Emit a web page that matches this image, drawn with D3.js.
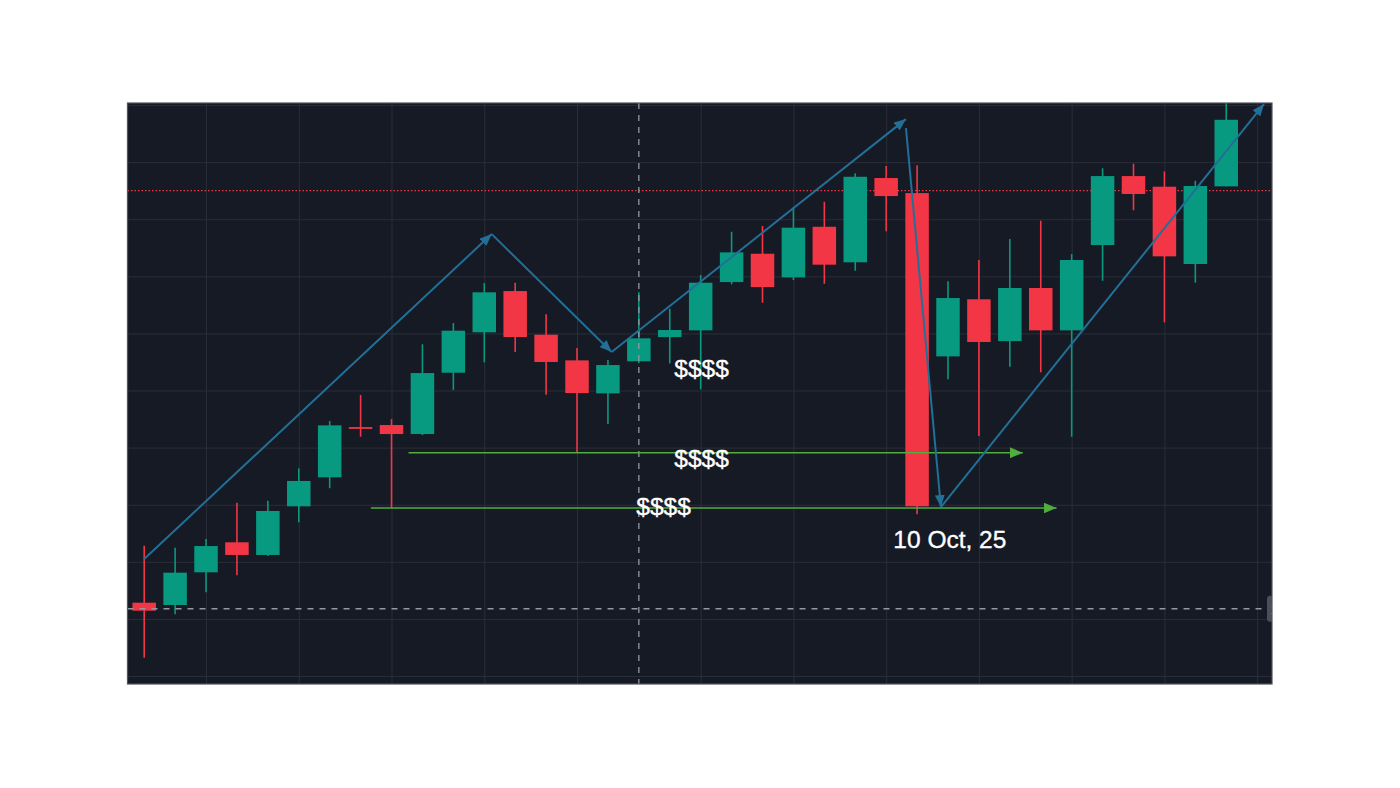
<!DOCTYPE html>
<html>
<head>
<meta charset="utf-8">
<script src="https://cdn.jsdelivr.net/npm/d3@7"></script>
<style>
  html, body { margin: 0; padding: 0; background: #ffffff; }
  svg { display: block; }
</style>
</head>
<body>
<svg id="chart" width="1400" height="788"></svg>
<script>
// ---------------- DATA ----------------
const dates = ["2025-09-15","2025-09-16","2025-09-17","2025-09-18","2025-09-19","2025-09-20",
  "2025-09-21","2025-09-22","2025-09-23","2025-09-24","2025-09-25","2025-09-26","2025-09-27",
  "2025-09-28","2025-09-29","2025-09-30","2025-10-01","2025-10-02","2025-10-03","2025-10-04",
  "2025-10-05","2025-10-06","2025-10-07","2025-10-08","2025-10-09","2025-10-10","2025-10-11",
  "2025-10-12","2025-10-13","2025-10-14","2025-10-15","2025-10-16","2025-10-17","2025-10-18",
  "2025-10-19","2025-10-20"];
const openP  = [106.42,106.22,109.08,111.71,110.60,114.86,117.40,121.80,121.98,121.19,126.56,130.10,
  133.71,129.89,127.64,124.75,127.56,129.68,130.27,134.50,136.98,134.91,139.34,136.23,143.61,142.29,
  127.99,132.99,129.33,133.98,130.27,137.74,143.78,142.85,136.08,142.88];
const highP  = [111.41,111.23,112.00,115.18,115.35,118.19,122.33,124.61,122.50,129.05,130.91,134.41,
  134.44,131.67,128.72,127.67,133.60,132.16,135.11,138.91,139.40,141.04,141.53,144.02,144.66,144.72,
  134.56,136.43,138.27,139.87,136.95,144.46,144.86,144.19,143.37,151.00];
const lowP   = [101.60,105.40,107.33,108.82,110.51,113.46,116.44,120.95,114.71,121.10,125.04,127.47,
  128.37,124.63,119.61,122.07,127.41,127.38,125.11,134.30,132.69,134.68,134.35,135.49,138.94,114.16,
  125.98,121.02,127.08,126.59,120.95,134.61,140.78,130.97,134.44,142.88];
const closeP = [105.72,109.05,111.38,110.60,114.45,117.08,121.95,121.67,121.19,126.53,130.24,133.60,
  129.68,127.50,124.78,127.23,129.57,130.30,134.44,137.10,134.06,139.26,136.02,143.72,142.03,114.86,
  133.10,129.25,133.98,130.27,136.43,143.78,142.21,136.75,142.91,148.71];

// vertical grid lines (day index from first candle)
const vGridIdx = [2, 5, 8, 11, 14, 18, 21, 24, 27, 30, 33, 36];
// horizontal grid price levels
const hGridPrices = [100, 105, 110, 115, 120, 125, 130, 135, 140, 145, 150];

// reference lines
const lastPriceLine = 142.50;          // red dotted
const crosshairIdx = 16, crosshairPrice = 105.89;

// blue trend arrows: [startIdx, startPrice, endIdx, endPrice]
const blueArrows = [
  [0.00, 110.25, 11.24, 138.70],
  [11.24, 138.70, 15.12, 128.37],
  [15.12, 128.37, 24.64, 148.77],
  [24.64, 147.99, 25.77, 114.80],
  [25.77, 114.80, 36.22, 150.09]
];
// green support arrows: [startIdx, endIdx, price]
const greenArrows = [
  [8.55, 28.42, 119.55],
  [7.33, 29.51, 114.71]
];
// text labels: [text, centerIdx, baselinePrice]
const textLabels = [
  ["$$$$", 18.03, 126.18],
  ["$$$$", 18.03, 118.30],
  ["$$$$", 16.80, 114.10],
  ["10 Oct, 25", 26.06, 111.21]
];

// ---------------- LAYOUT ----------------
const panel = { left: 127.5, top: 103, right: 1272, bottom: 684 };
const day = 864e5;
const t0 = Date.UTC(2025, 8, 15);
const svg = d3.select("#chart");

const x = d3.scaleUtc()
  .domain([new Date(t0 - 0.54 * day), new Date(t0 + 36.48 * day)])
  .range([panel.left, panel.right]);
const xi = i => x(new Date(t0 + i * day));
const y = d3.scaleLinear().domain([99.3, 150.18]).range([panel.bottom, panel.top]);

const candles = dates.map((d, i) => ({
  date: new Date(d + "T00:00:00Z"), o: openP[i], h: highP[i], l: lowP[i], c: closeP[i]
}));

const UP = "#089981", DOWN = "#f23645";
const bodyW = 23.5;

const defs = svg.append("defs");
defs.append("clipPath").attr("id", "clip")
  .append("rect").attr("x", panel.left).attr("y", panel.top)
  .attr("width", panel.right - panel.left).attr("height", panel.bottom - panel.top);

function marker(id, color, len, wid) {
  defs.append("marker").attr("id", id)
    .attr("markerUnits", "userSpaceOnUse")
    .attr("viewBox", `0 0 ${len} ${wid}`)
    .attr("refX", len).attr("refY", wid / 2)
    .attr("markerWidth", len).attr("markerHeight", wid)
    .attr("orient", "auto")
    .append("path").attr("d", `M0,0 L${len},${wid / 2} L0,${wid} Z`).attr("fill", color);
}
marker("blueHead", "#226f97", 12, 10);
marker("greenHead", "#4fae3d", 13, 11);

// panel background
svg.append("rect")
  .attr("x", panel.left).attr("y", panel.top)
  .attr("width", panel.right - panel.left).attr("height", panel.bottom - panel.top)
  .attr("fill", "#161a25");

const g = svg.append("g").attr("clip-path", "url(#clip)");

// grid via axes
const xAxis = d3.axisBottom(x)
  .tickValues(vGridIdx.map(i => new Date(t0 + i * day)))
  .tickSize(-(panel.bottom - panel.top)).tickFormat("");
g.append("g").attr("transform", `translate(0,${panel.bottom})`).call(xAxis)
  .call(s => s.select(".domain").remove())
  .call(s => s.selectAll("line").attr("stroke", "#2a2e39").attr("stroke-width", 1));

const yAxis = d3.axisLeft(y).tickValues(hGridPrices)
  .tickSize(-(panel.right - panel.left)).tickFormat("");
g.append("g").attr("transform", `translate(${panel.left},0)`).call(yAxis)
  .call(s => s.select(".domain").remove())
  .call(s => s.selectAll("line").attr("stroke", "#2a2e39").attr("stroke-width", 1));

// red dotted price line
g.append("line")
  .attr("x1", panel.left).attr("x2", panel.right)
  .attr("y1", y(lastPriceLine)).attr("y2", y(lastPriceLine))
  .attr("stroke", DOWN).attr("stroke-width", 1.3).attr("stroke-dasharray", "1.5,2");

// candles
const cg = g.append("g");
cg.selectAll("line.wick").data(candles).join("line").attr("class", "wick")
  .attr("x1", d => x(d.date)).attr("x2", d => x(d.date))
  .attr("y1", d => y(d.h)).attr("y2", d => y(d.l))
  .attr("stroke", d => d.c >= d.o ? UP : DOWN).attr("stroke-width", 1.6);
cg.selectAll("rect.body").data(candles).join("rect").attr("class", "body")
  .attr("x", d => x(d.date) - bodyW / 2).attr("width", bodyW)
  .attr("y", d => y(Math.max(d.o, d.c)))
  .attr("height", d => Math.max(1.8, Math.abs(y(d.o) - y(d.c))))
  .attr("fill", d => d.c >= d.o ? UP : DOWN);

// crosshair
g.append("line")
  .attr("x1", xi(crosshairIdx)).attr("x2", xi(crosshairIdx))
  .attr("y1", panel.top).attr("y2", panel.bottom)
  .attr("stroke", "#9598a1").attr("stroke-width", 1.3).attr("stroke-dasharray", "6,6");
g.append("line")
  .attr("x1", panel.left).attr("x2", panel.right)
  .attr("y1", y(crosshairPrice)).attr("y2", y(crosshairPrice))
  .attr("stroke", "#9598a1").attr("stroke-width", 1.3).attr("stroke-dasharray", "6,6");
g.append("rect")
  .attr("x", panel.right - 5).attr("y", y(crosshairPrice) - 13)
  .attr("width", 60).attr("height", 26).attr("rx", 3).attr("fill", "#4a4e59");
g.append("text")
  .attr("x", panel.right - 1.5).attr("y", y(crosshairPrice) + 5)
  .attr("fill", "#ffffff").attr("font-family", "Liberation Sans, Arial, sans-serif")
  .attr("font-size", 14).text(crosshairPrice.toFixed(2));

// green arrows
g.selectAll("line.green").data(greenArrows).join("line").attr("class", "green")
  .attr("x1", d => xi(d[0])).attr("x2", d => xi(d[1]))
  .attr("y1", d => y(d[2])).attr("y2", d => y(d[2]))
  .attr("stroke", "#4fae3d").attr("stroke-width", 1.6)
  .attr("marker-end", "url(#greenHead)");

// blue arrows
g.selectAll("line.blue").data(blueArrows).join("line").attr("class", "blue")
  .attr("x1", d => xi(d[0])).attr("y1", d => y(d[1]))
  .attr("x2", d => xi(d[2])).attr("y2", d => y(d[3]))
  .attr("stroke", "#226f97").attr("stroke-width", 2)
  .attr("marker-end", "url(#blueHead)");

// text labels
svg.selectAll("text.lbl").data(textLabels).join("text").attr("class", "lbl")
  .attr("x", d => xi(d[1])).attr("y", d => y(d[2]))
  .attr("text-anchor", "middle")
  .attr("fill", "#ffffff")
  .attr("stroke", "#ffffff").attr("stroke-width", 0.35)
  .attr("font-family", "Liberation Sans, Arial, Helvetica, sans-serif")
  .attr("font-size", 24.5)
  .text(d => d[0]);

// panel border
svg.append("rect")
  .attr("x", panel.left).attr("y", panel.top)
  .attr("width", panel.right - panel.left).attr("height", panel.bottom - panel.top)
  .attr("fill", "none").attr("stroke", "#50535c").attr("stroke-width", 1.2);
</script>
</body>
</html>
